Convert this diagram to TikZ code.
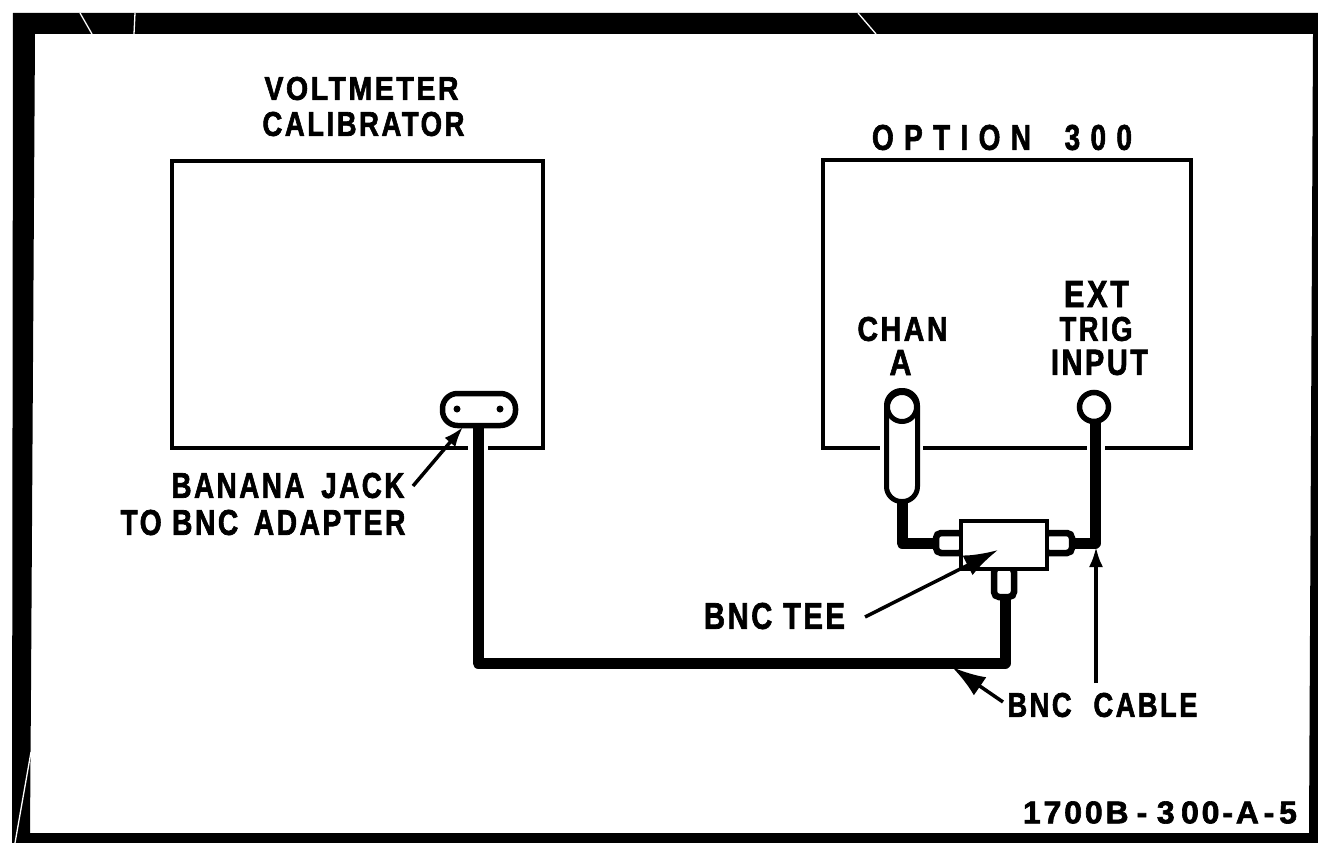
\documentclass[tikz,border=0pt]{standalone}
\usepackage{fontspec}
\usepackage{graphicx}
\setmainfont{Liberation Sans}[BoldFeatures={FakeBold=2,LetterSpace=9}]
\usetikzlibrary{arrows.meta}
\tikzset{
  lbl/.style={inner sep=0pt,outer sep=0pt,font=\bfseries},
  inst/.style={draw=black,line width=4pt,fill=none,inner sep=0pt,outer sep=0pt,rectangle},
  cable/.style={draw=black,line width=11pt,line join=round},
  lead/.style={draw=black,line width=3.5pt,-{Latex[length=20pt,width=14pt]}},
  leadheavy/.style={draw=black,line width=3.5pt,-{Latex[length=34pt,width=22pt]}},
  fitting/.style={draw=black,line width=6.5pt,fill=white,rounded corners=5pt,inner sep=0pt,outer sep=0pt,rectangle},
  slit/.style={draw=white,line width=1.3pt},
}
\newcommand{\fitlabel}[6]{\node[lbl] (#1) at (#2,#3) {\resizebox{#4pt}{#5pt}{#6}};}
\newcommand{\gap}[1]{\hspace{#1em}}
\begin{document}
\begin{tikzpicture}[x=1pt,y=-1pt]
\useasboundingbox (0,0) rectangle (1318,843);
% scan frame
\fill[black,even odd rule] (13,13) -- (1318,13) -- (1318,843) -- (12,843) -- cycle
  (35,34) -- (1313,34) -- (1309,833) -- (30,833) -- (31,690) -- cycle;
\draw[slit] (80,13) -- (92,34);
\draw[slit] (135,13) -- (134,34);
\draw[slit] (858,13) -- (876,34);
\draw[slit] (31,752) -- (15,843);
% instruments
\node[inst,minimum width=371pt,minimum height=287pt] (cal) at (357,304) {};
\node[inst,minimum width=368pt,minimum height=288pt] (opt) at (1007,304) {};
\fill[white] (468,440) rectangle (488,455);
\fill[white] (880,440) rectangle (923,455);
\fill[white] (1087,440) rectangle (1105,455);
% labels
\fitlabel{lv}{361.5}{88.5}{194}{23}{VOLTMETER}
\fitlabel{lc}{363.5}{124}{202}{24}{CALIBRATOR}
\fitlabel{lo}{1002}{137.5}{260}{25}{O P T I O N\gap{1.2}3 0 0}
\fitlabel{lca}{902.5}{329}{90}{24}{CHAN}
\fitlabel{la}{900.5}{362.5}{22}{25}{A}
\fitlabel{le}{1096.5}{294}{65}{26}{EXT}
\fitlabel{lt}{1096}{329}{73}{24}{TRIG}
\fitlabel{li}{1099.5}{362.5}{97}{25}{INPUT}
\fitlabel{lb}{288}{485.5}{233}{25}{BANANA\gap{0.6}JACK}
\fitlabel{lta}{263}{522.5}{285}{25}{TO BNC\gap{0.55}ADAPTER}
\fitlabel{lbt}{774.5}{616}{141}{26}{BNC TEE}
\fitlabel{lbc}{1102.5}{705}{190}{24}{BNC\gap{0.8}CABLE}
\fitlabel{lnum}{1160}{812.5}{274}{22}{1700B\gap{0.25}-\gap{0.3}3\gap{0.2}00-A\gap{0.15}-\gap{0.15}5}
% tee and fittings
\node[fitting,minimum width=28pt,minimum height=20pt] (tl) at (950,543) {};
\node[fitting,minimum width=28pt,minimum height=20pt] (tr) at (1058,543) {};
\node[fitting,minimum width=20pt,minimum height=30pt] (tb) at (1004,582) {};
\node[inst,fill=white,minimum width=86pt,minimum height=48pt] (tee) at (1004,545) {};
% adapter
\node[draw=black,line width=5.5pt,fill=white,rounded corners=15pt,inner sep=0pt,outer sep=0pt,minimum width=73pt,minimum height=32pt] (ad) at (479,409.5) {};
\node[circle,fill=black,minimum size=7pt,inner sep=0pt] (ad1) at (457,409) {};
\node[circle,fill=black,minimum size=7pt,inner sep=0pt] (ad2) at (500,409) {};
% chan A connector
\node[draw=black,line width=5pt,fill=white,rounded corners=15pt,inner sep=0pt,outer sep=0pt,minimum width=31pt,minimum height=111pt] (ca) at (902,446) {};
\node[circle,draw=black,line width=5pt,fill=white,minimum size=29pt,inner sep=0pt,outer sep=0pt] (ci) at (902,407) {};
% ext connector
\node[circle,draw=black,line width=5.5pt,fill=white,minimum size=29pt,inner sep=0pt,outer sep=0pt] (ei) at (1094,407) {};
% cables
\coordinate (k1) at (902,543);
\coordinate (k2) at (1095,543);
\coordinate (k3) at (478,663);
\coordinate (k4) at (1005,663);
\draw[cable] (ca.south) -- (k1) -- (tl.west);
\draw[cable] (ei.south -| k2) -- (k2) -- (tr.east);
\draw[cable] (ad.south -| k3) -- (k3) -- (k4) -- (tb.south -| k4);
% leader arrows
\coordinate (a1s) at (413,486);
\coordinate (a1e) at (463,427);
\coordinate (a2s) at (865,617);
\coordinate (a2e) at (998,550);
\coordinate (a3s) at (1096,683);
\coordinate (a3e) at (1096,547);
\coordinate (a4s) at (1003,702);
\coordinate (a4e) at (952,667);
\draw[lead] (a1s) -- (a1e);
\draw[leadheavy] (a2s) -- (a2e);
\draw[lead] (a3s) -- (a3e);
\draw[leadheavy] (a4s) -- (a4e);
\end{tikzpicture}
\end{document}
